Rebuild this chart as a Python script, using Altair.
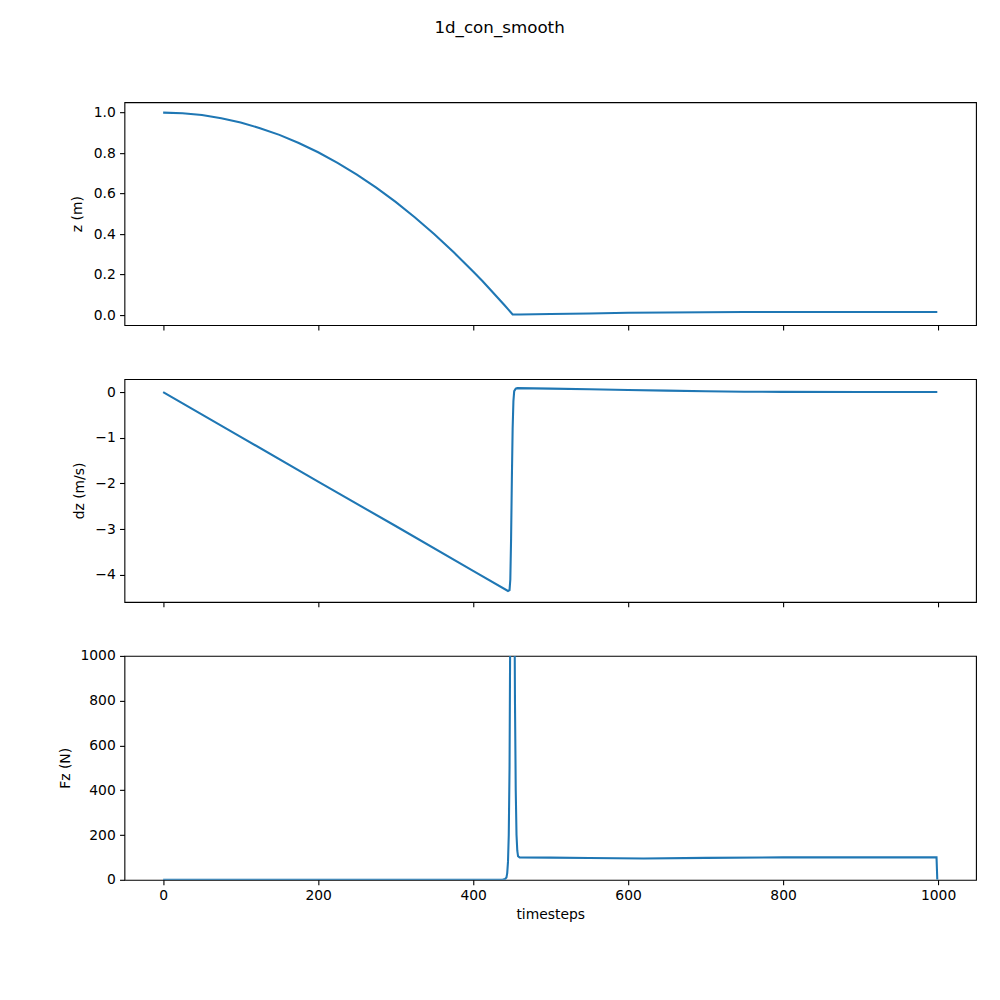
import altair as alt
import pandas as pd

# ---- data ----
z_steps = [0, 25, 50, 75, 100, 125, 150, 175, 200, 225, 250, 275, 300, 325, 350, 375, 400, 412, 425, 435, 440, 445, 451,
           460, 500, 550, 600, 650, 700, 750, 800, 900, 999]
z_vals = [1.000, 0.997, 0.988, 0.972, 0.951, 0.923, 0.890, 0.850, 0.804, 0.752, 0.694, 0.629, 0.559, 0.482, 0.399,
          0.310, 0.215, 0.168, 0.114, 0.072, 0.051, 0.029, 0.003,
          0.003, 0.005, 0.008, 0.011, 0.013, 0.014, 0.015, 0.015, 0.015, 0.015]

dz_steps = [0, 100, 200, 300, 400, 445, 447, 448, 449, 450, 451, 452, 453, 455, 457, 500, 550, 600, 650, 700, 750, 800, 900, 999]
dz_vals = [0.0, -0.98, -1.96, -2.93, -3.91, -4.35, -4.33, -4.10, -3.20, -1.90, -0.80, -0.20, 0.02, 0.075, 0.085, 0.075,
           0.062, 0.045, 0.030, 0.018, 0.008, 0.003, 0.0, 0.0]

fz_steps = [0, 430, 438, 441, 443, 444, 445, 446, 447, 448, 449, 450, 451, 452, 453, 454, 455, 456, 457, 458, 460,
            500, 550, 620, 700, 800, 900, 998, 999]
fz_vals = [0, 0, 0.5, 3, 10, 30, 80, 200, 500, 1200, 3000, 4000, 3500, 2500, 1500, 800, 400, 200, 130, 105, 100,
           99, 97, 95, 98, 100, 100, 100, 0]

x_ticks = [0, 200, 400, 600, 800, 1000]
z_ticks = [0.0, 0.2, 0.4, 0.6, 0.8, 1.0]
dz_ticks = [0, -1, -2, -3, -4]
fz_ticks = [0, 200, 400, 600, 800, 1000]

BLUE = "#1f77b4"
FONT = "DejaVu Sans"
W = 852
FS = 13.9

xscale = alt.Scale(domain=[-49.95, 1048.95], nice=False, zero=False)


def panel(steps, vals, ytitle, ydomain, yticks, yfmt_expr, title_x, bottom, h):
    df = pd.DataFrame({"t": steps, "v": vals})
    xkw = dict(values=x_ticks, labels=bottom, ticks=True, tickSize=4.9)
    if bottom:
        xkw.update(title="timesteps", format="d", titlePadding=5)
    else:
        xkw.update(title=None)
    yaxis = alt.Axis(
        values=yticks,
        title=ytitle,
        labelExpr=yfmt_expr,
        titleX=title_x,
        titleY=h / 2,
        titleAngle=270,
        titleAlign="center",
        titleBaseline="bottom",
    )
    return (
        alt.Chart(df)
        .mark_line(color=BLUE, strokeWidth=2.08, clip=True)
        .encode(
            x=alt.X("t:Q", scale=xscale, axis=alt.Axis(**xkw)),
            y=alt.Y("v:Q", scale=alt.Scale(domain=ydomain, nice=False, zero=False), axis=yaxis),
        )
        .properties(width=W, height=h)
    )


top = panel(z_steps, z_vals, "z (m)", [-0.0495, 1.0515], z_ticks,
            "format(datum.value, '.1f')", -39.5, False, 223)
mid = panel(dz_steps, dz_vals, "dz (m/s)", [-4.59, 0.284], dz_ticks,
            "replace(format(datum.value, 'd'), '-', '\u2212')", -38, False, 223)
bot = panel(fz_steps, fz_vals, "Fz (N)", [0, 1000], fz_ticks,
            "format(datum.value, 'd')", -52.2, True, 224)

chart = (
    alt.vconcat(top, mid, bot, spacing=54, bounds="flush")
    .properties(
        title=alt.TitleParams(
            "1d_con_smooth",
            font=FONT,
            fontSize=16.7,
            fontWeight="normal",
            color="black",
            anchor="middle",
            frame="group",
            dx=-50.7,
            offset=65,
        ),
        padding={"left": 49.5, "top": 11, "right": 15, "bottom": 10},
    )
    .configure_view(stroke="black", strokeWidth=1.1)
    .configure_axis(
        domain=False,
        grid=False,
        tickColor="black",
        tickWidth=1.1,
        tickSize=4.9,
        labelPadding=4.3,
        labelFont=FONT,
        labelFontSize=FS,
        labelColor="black",
        titleFont=FONT,
        titleFontSize=FS,
        titleFontWeight="normal",
        titleColor="black",
    )
)

chart.save("out.html", embed_options={"renderer": "svg", "actions": False})
